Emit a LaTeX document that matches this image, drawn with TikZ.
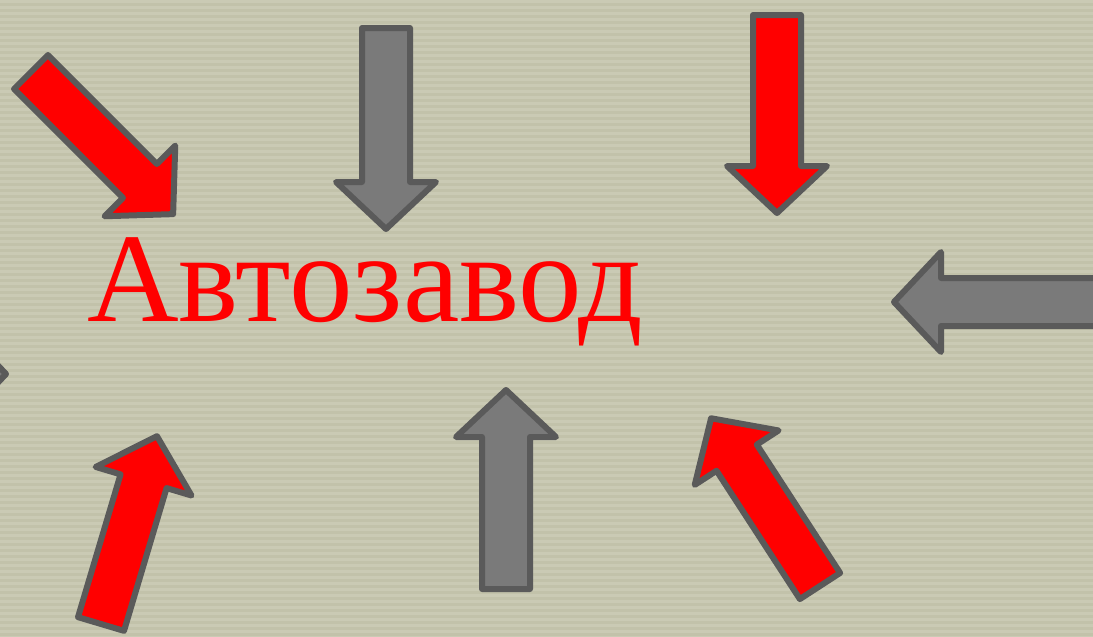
\documentclass[tikz,border=0pt]{standalone}
\usepackage{fontspec}
\setmainfont{Liberation Serif}
\definecolor{bgbase}{HTML}{C2C2AA}
\definecolor{bgline}{HTML}{CACAB4}
\definecolor{rimgray}{HTML}{5A5A5A}
\definecolor{arrowgray}{HTML}{7A7A7A}
\definecolor{arrowred}{HTML}{FF0000}
\tikzset{
	blockarrow/.style={draw=rimgray,line width=6pt,line join=round}
}
\begin{document}
\begin{tikzpicture}[x=1pt,y=-1pt]
	\def \w{24} % half width of shaft
	\def \h{50} % half width of head
	\def \hl{47} % length of head
	\useasboundingbox (0,0) rectangle (1093,637);
	\fill[bgbase] (0,0) rectangle (1093,637);
	\foreach \i in {0,6,...,636}
	\fill[bgline] (0,\i) rectangle (1093,\i+3);
	% arrows: tail x / tail y / angle / length / fill
	\foreach \tx/\ty/\ang/\len/\col in {
		31/72/-45/201/arrowred,
		386/28/-90/201/arrowgray,
		777/15/-90/198/arrowred,
		1120/302/180/226/arrowgray,
		506/589/90/199/arrowgray,
		820/586/123/200/arrowred,
		101/624/73.4/196/arrowred,
		-200/374/0/206/arrowgray}
	{
		\begin{scope}[shift={(\tx,\ty)},rotate=\ang]
			\draw[blockarrow,fill=\col] (0,-\w) -- (\len-\hl,-\w) -- (\len-\hl,-\h)
			-- (\len,0) -- (\len-\hl,\h) -- (\len-\hl,\w) -- (0,\w) -- cycle;
		\end{scope}
	}
	\node[anchor=base,text=arrowred,inner sep=0pt,font=\fontsize{127}{130}\selectfont]
	(title) at (365,321) {Автозавод};
\end{tikzpicture}
\end{document}
